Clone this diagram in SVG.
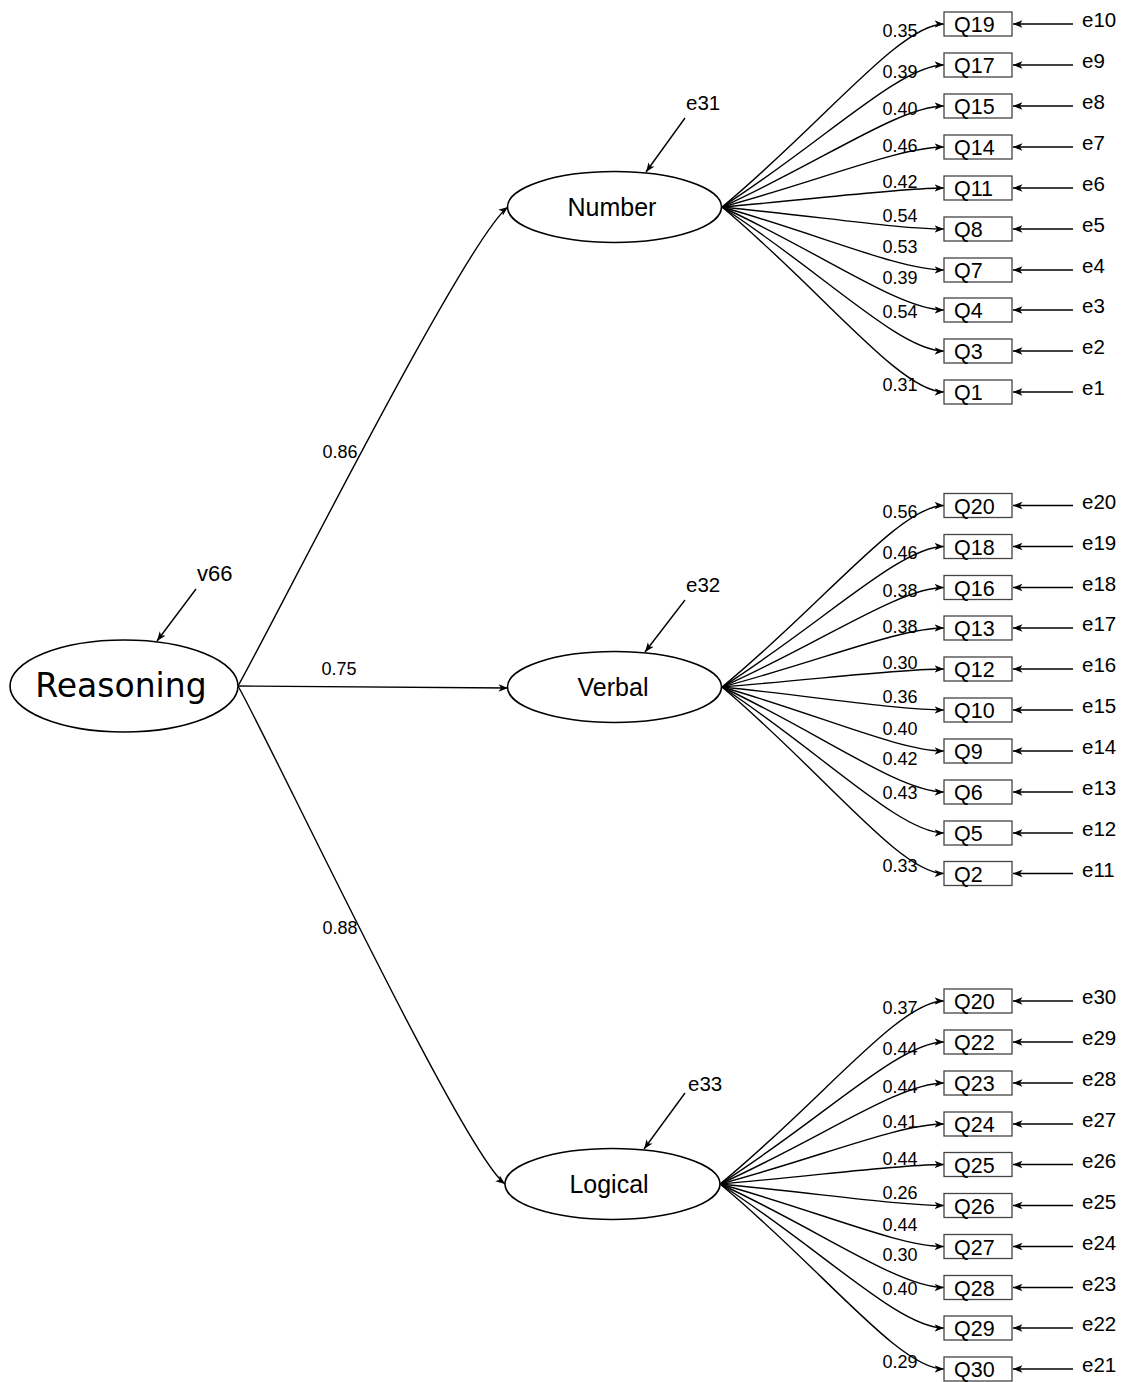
<svg xmlns="http://www.w3.org/2000/svg" width="1123" height="1382" viewBox="0 0 1123 1382">
<style>
.bg{fill:#fff}
.lat{fill:#fff;stroke:#000;stroke-width:1.6}
.box{fill:#fff;stroke:#444;stroke-width:1.3}
.edge{fill:none;stroke:#000;stroke-width:1.4;marker-end:url(#ah)}
.t{font-family:"Liberation Sans",Arial,sans-serif;fill:#000}
.lt{font-size:25px;text-anchor:middle}
.bt{font-size:21.5px}
.et{font-size:20.5px}
.wt{font-size:18px;text-anchor:middle}
.rt{font-family:"DejaVu Sans",sans-serif;font-size:33px;text-anchor:middle;fill:#000}
</style>
<defs>
<marker id="ah" markerUnits="userSpaceOnUse" markerWidth="11" markerHeight="9" refX="9.5" refY="4" orient="auto">
<path d="M0,0.3 L9.5,4 L0,7.7 L2.6,4 z" fill="#000"/>
</marker>
</defs>
<rect class="bg" x="0" y="0" width="1123" height="1382"/>

<g id="connectors">
<path class="edge" d="M238,686 C270,630 465,240 508,207"/>
<path class="edge" d="M238,686 L508,688"/>
<path class="edge" d="M238,686 C270,742 462,1151 505,1184"/>
<path class="edge" d="M196,589 L157,641"/>
<path class="edge" d="M685,118 L646,172"/>
<path class="edge" d="M685,600 L645,652"/>
<path class="edge" d="M685,1093 L644,1149"/>
<path class="edge" d="M722,207 C822,124.6 900,24 944,24"/>
<path class="edge" d="M722,207 C822,143.1 900,65 944,65"/>
<path class="edge" d="M722,207 C822,161.6 900,106 944,106"/>
<path class="edge" d="M722,207 C822,180 900,147 944,147"/>
<path class="edge" d="M722,207 C822,198.5 900,188 944,188"/>
<path class="edge" d="M722,207 C822,216.9 900,229 944,229"/>
<path class="edge" d="M722,207 C822,235.4 900,270 944,270"/>
<path class="edge" d="M722,207 C822,253.4 900,310 944,310"/>
<path class="edge" d="M722,207 C822,271.8 900,351 944,351"/>
<path class="edge" d="M722,207 C822,290.3 900,392 944,392"/>
<path class="edge" d="M722,687 C822,605.3 900,505.5 944,505.5"/>
<path class="edge" d="M722,687 C822,623.8 900,546.5 944,546.5"/>
<path class="edge" d="M722,687 C822,642.2 900,587.5 944,587.5"/>
<path class="edge" d="M722,687 C822,660.4 900,628 944,628"/>
<path class="edge" d="M722,687 C822,678.9 900,669 944,669"/>
<path class="edge" d="M722,687 C822,697.4 900,710 944,710"/>
<path class="edge" d="M722,687 C822,715.8 900,751 944,751"/>
<path class="edge" d="M722,687 C822,734.3 900,792 944,792"/>
<path class="edge" d="M722,687 C822,752.7 900,833 944,833"/>
<path class="edge" d="M722,687 C822,770.9 900,873.5 944,873.5"/>
<path class="edge" d="M720,1184 C821,1101.6 899,1001 944,1001"/>
<path class="edge" d="M720,1184 C821,1120.1 899,1042 944,1042"/>
<path class="edge" d="M720,1184 C821,1138.6 899,1083 944,1083"/>
<path class="edge" d="M720,1184 C821,1157 899,1124 944,1124"/>
<path class="edge" d="M720,1184 C821,1175.2 899,1164.5 944,1164.5"/>
<path class="edge" d="M720,1184 C821,1193.7 899,1205.5 944,1205.5"/>
<path class="edge" d="M720,1184 C821,1212.1 899,1246.5 944,1246.5"/>
<path class="edge" d="M720,1184 C821,1230.6 899,1287.5 944,1287.5"/>
<path class="edge" d="M720,1184 C821,1248.8 899,1328 944,1328"/>
<path class="edge" d="M720,1184 C821,1267.3 899,1369 944,1369"/>
<path class="edge" d="M1073,24 L1013,24"/>
<path class="edge" d="M1073,65 L1013,65"/>
<path class="edge" d="M1073,106 L1013,106"/>
<path class="edge" d="M1073,147 L1013,147"/>
<path class="edge" d="M1073,188 L1013,188"/>
<path class="edge" d="M1073,229 L1013,229"/>
<path class="edge" d="M1073,270 L1013,270"/>
<path class="edge" d="M1073,310 L1013,310"/>
<path class="edge" d="M1073,351 L1013,351"/>
<path class="edge" d="M1073,392 L1013,392"/>
<path class="edge" d="M1073,505.5 L1013,505.5"/>
<path class="edge" d="M1073,546.5 L1013,546.5"/>
<path class="edge" d="M1073,587.5 L1013,587.5"/>
<path class="edge" d="M1073,628 L1013,628"/>
<path class="edge" d="M1073,669 L1013,669"/>
<path class="edge" d="M1073,710 L1013,710"/>
<path class="edge" d="M1073,751 L1013,751"/>
<path class="edge" d="M1073,792 L1013,792"/>
<path class="edge" d="M1073,833 L1013,833"/>
<path class="edge" d="M1073,873.5 L1013,873.5"/>
<path class="edge" d="M1073,1001 L1013,1001"/>
<path class="edge" d="M1073,1042 L1013,1042"/>
<path class="edge" d="M1073,1083 L1013,1083"/>
<path class="edge" d="M1073,1124 L1013,1124"/>
<path class="edge" d="M1073,1164.5 L1013,1164.5"/>
<path class="edge" d="M1073,1205.5 L1013,1205.5"/>
<path class="edge" d="M1073,1246.5 L1013,1246.5"/>
<path class="edge" d="M1073,1287.5 L1013,1287.5"/>
<path class="edge" d="M1073,1328 L1013,1328"/>
<path class="edge" d="M1073,1369 L1013,1369"/>
</g>

<g id="edge-labels" class="t">
<text class="wt" x="340" y="458">0.86</text>
<text class="wt" x="339" y="675">0.75</text>
<text class="wt" x="340" y="934">0.88</text>
<text class="wt" x="900" y="37">0.35</text>
<text class="wt" x="900" y="78">0.39</text>
<text class="wt" x="900" y="115">0.40</text>
<text class="wt" x="900" y="152">0.46</text>
<text class="wt" x="900" y="188">0.42</text>
<text class="wt" x="900" y="222">0.54</text>
<text class="wt" x="900" y="253">0.53</text>
<text class="wt" x="900" y="284">0.39</text>
<text class="wt" x="900" y="318">0.54</text>
<text class="wt" x="900" y="391">0.31</text>
<text class="wt" x="900" y="518">0.56</text>
<text class="wt" x="900" y="559">0.46</text>
<text class="wt" x="900" y="597">0.38</text>
<text class="wt" x="900" y="633">0.38</text>
<text class="wt" x="900" y="669">0.30</text>
<text class="wt" x="900" y="703">0.36</text>
<text class="wt" x="900" y="735">0.40</text>
<text class="wt" x="900" y="765">0.42</text>
<text class="wt" x="900" y="799">0.43</text>
<text class="wt" x="900" y="872">0.33</text>
<text class="wt" x="900" y="1014">0.37</text>
<text class="wt" x="900" y="1055">0.44</text>
<text class="wt" x="900" y="1093">0.44</text>
<text class="wt" x="900" y="1128">0.41</text>
<text class="wt" x="900" y="1165">0.44</text>
<text class="wt" x="900" y="1199">0.26</text>
<text class="wt" x="900" y="1231">0.44</text>
<text class="wt" x="900" y="1261">0.30</text>
<text class="wt" x="900" y="1295">0.40</text>
<text class="wt" x="900" y="1368">0.29</text>
</g>

<g id="Reasoning">
<ellipse class="lat" cx="124" cy="686" rx="114" ry="46"/>
<text class="rt" x="121" y="697">Reasoning</text>
</g>
<g id="v66"><text class="t" x="197" y="581" font-size="22">v66</text></g>

<g id="Number">
<ellipse class="lat" cx="614.5" cy="207" rx="107" ry="35.5"/>
<text class="t lt" x="612" y="216">Number</text>
</g>
<g id="e31"><text class="t et" x="686" y="110">e31</text></g>

<g id="Verbal">
<ellipse class="lat" cx="614.5" cy="687" rx="107" ry="35.5"/>
<text class="t lt" x="613" y="696">Verbal</text>
</g>
<g id="e32"><text class="t et" x="686" y="592">e32</text></g>

<g id="Logical">
<ellipse class="lat" cx="612.5" cy="1184" rx="107.5" ry="35.5"/>
<text class="t lt" x="609" y="1193">Logical</text>
</g>
<g id="e33"><text class="t et" x="688" y="1091">e33</text></g>

<g id="num-items">
<g id="n-Q19"><rect class="box" x="944" y="12" width="68" height="24"/><text class="t bt" x="954" y="32">Q19</text><text class="t et" x="1082" y="27">e10</text></g>
<g id="n-Q17"><rect class="box" x="944" y="53" width="68" height="24"/><text class="t bt" x="954" y="73">Q17</text><text class="t et" x="1082" y="68">e9</text></g>
<g id="n-Q15"><rect class="box" x="944" y="94" width="68" height="24"/><text class="t bt" x="954" y="114">Q15</text><text class="t et" x="1082" y="109">e8</text></g>
<g id="n-Q14"><rect class="box" x="944" y="135" width="68" height="24"/><text class="t bt" x="954" y="155">Q14</text><text class="t et" x="1082" y="150">e7</text></g>
<g id="n-Q11"><rect class="box" x="944" y="176" width="68" height="24"/><text class="t bt" x="954" y="196">Q11</text><text class="t et" x="1082" y="191">e6</text></g>
<g id="n-Q8"><rect class="box" x="944" y="217" width="68" height="24"/><text class="t bt" x="954" y="237">Q8</text><text class="t et" x="1082" y="232">e5</text></g>
<g id="n-Q7"><rect class="box" x="944" y="258" width="68" height="24"/><text class="t bt" x="954" y="278">Q7</text><text class="t et" x="1082" y="273">e4</text></g>
<g id="n-Q4"><rect class="box" x="944" y="298" width="68" height="24"/><text class="t bt" x="954" y="318">Q4</text><text class="t et" x="1082" y="313">e3</text></g>
<g id="n-Q3"><rect class="box" x="944" y="339" width="68" height="24"/><text class="t bt" x="954" y="359">Q3</text><text class="t et" x="1082" y="354">e2</text></g>
<g id="n-Q1"><rect class="box" x="944" y="380" width="68" height="24"/><text class="t bt" x="954" y="400">Q1</text><text class="t et" x="1082" y="395">e1</text></g>
</g>

<g id="verb-items">
<g id="v-Q20"><rect class="box" x="944" y="493.5" width="68" height="24"/><text class="t bt" x="954" y="513.5">Q20</text><text class="t et" x="1082" y="508.5">e20</text></g>
<g id="v-Q18"><rect class="box" x="944" y="534.5" width="68" height="24"/><text class="t bt" x="954" y="554.5">Q18</text><text class="t et" x="1082" y="549.5">e19</text></g>
<g id="v-Q16"><rect class="box" x="944" y="575.5" width="68" height="24"/><text class="t bt" x="954" y="595.5">Q16</text><text class="t et" x="1082" y="590.5">e18</text></g>
<g id="v-Q13"><rect class="box" x="944" y="616" width="68" height="24"/><text class="t bt" x="954" y="636">Q13</text><text class="t et" x="1082" y="631">e17</text></g>
<g id="v-Q12"><rect class="box" x="944" y="657" width="68" height="24"/><text class="t bt" x="954" y="677">Q12</text><text class="t et" x="1082" y="672">e16</text></g>
<g id="v-Q10"><rect class="box" x="944" y="698" width="68" height="24"/><text class="t bt" x="954" y="718">Q10</text><text class="t et" x="1082" y="713">e15</text></g>
<g id="v-Q9"><rect class="box" x="944" y="739" width="68" height="24"/><text class="t bt" x="954" y="759">Q9</text><text class="t et" x="1082" y="754">e14</text></g>
<g id="v-Q6"><rect class="box" x="944" y="780" width="68" height="24"/><text class="t bt" x="954" y="800">Q6</text><text class="t et" x="1082" y="795">e13</text></g>
<g id="v-Q5"><rect class="box" x="944" y="821" width="68" height="24"/><text class="t bt" x="954" y="841">Q5</text><text class="t et" x="1082" y="836">e12</text></g>
<g id="v-Q2"><rect class="box" x="944" y="861.5" width="68" height="24"/><text class="t bt" x="954" y="881.5">Q2</text><text class="t et" x="1082" y="876.5">e11</text></g>
</g>

<g id="log-items">
<g id="l-Q20"><rect class="box" x="944" y="989" width="68" height="24"/><text class="t bt" x="954" y="1009">Q20</text><text class="t et" x="1082" y="1004">e30</text></g>
<g id="l-Q22"><rect class="box" x="944" y="1030" width="68" height="24"/><text class="t bt" x="954" y="1050">Q22</text><text class="t et" x="1082" y="1045">e29</text></g>
<g id="l-Q23"><rect class="box" x="944" y="1071" width="68" height="24"/><text class="t bt" x="954" y="1091">Q23</text><text class="t et" x="1082" y="1086">e28</text></g>
<g id="l-Q24"><rect class="box" x="944" y="1112" width="68" height="24"/><text class="t bt" x="954" y="1132">Q24</text><text class="t et" x="1082" y="1127">e27</text></g>
<g id="l-Q25"><rect class="box" x="944" y="1152.5" width="68" height="24"/><text class="t bt" x="954" y="1172.5">Q25</text><text class="t et" x="1082" y="1167.5">e26</text></g>
<g id="l-Q26"><rect class="box" x="944" y="1193.5" width="68" height="24"/><text class="t bt" x="954" y="1213.5">Q26</text><text class="t et" x="1082" y="1208.5">e25</text></g>
<g id="l-Q27"><rect class="box" x="944" y="1234.5" width="68" height="24"/><text class="t bt" x="954" y="1254.5">Q27</text><text class="t et" x="1082" y="1249.5">e24</text></g>
<g id="l-Q28"><rect class="box" x="944" y="1275.5" width="68" height="24"/><text class="t bt" x="954" y="1295.5">Q28</text><text class="t et" x="1082" y="1290.5">e23</text></g>
<g id="l-Q29"><rect class="box" x="944" y="1316" width="68" height="24"/><text class="t bt" x="954" y="1336">Q29</text><text class="t et" x="1082" y="1331">e22</text></g>
<g id="l-Q30"><rect class="box" x="944" y="1357" width="68" height="24"/><text class="t bt" x="954" y="1377">Q30</text><text class="t et" x="1082" y="1372">e21</text></g>
</g>
</svg>
